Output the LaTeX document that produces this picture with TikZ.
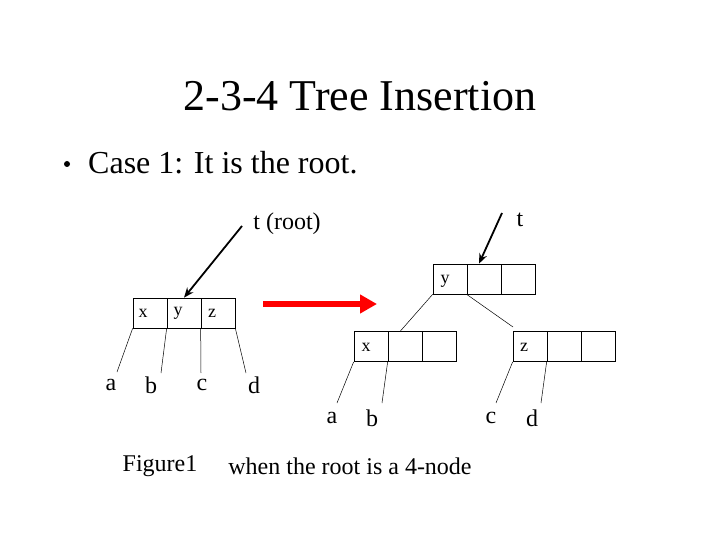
\documentclass[tikz,border=0pt]{standalone}
\usepackage{fontspec}
\setmainfont{Liberation Serif}
\usetikzlibrary{arrows.meta}
\begin{document}
\begin{tikzpicture}[x=1pt,y=-1pt,
  cell/.style={draw,line width=0.7pt,minimum width=34pt,minimum height=30pt,inner sep=0pt},
  keylab/.style={inner sep=0pt,font=\fontsize{18}{20}\selectfont},
  leaflab/.style={inner sep=0pt,font=\fontsize{24}{26}\selectfont},
  midtext/.style={inner sep=0pt,font=\fontsize{24}{26}\selectfont},
  edge/.style={line width=0.5pt},
  pointer/.style={line width=1.8pt,-{Stealth[length=10pt,width=8pt]}}]
\useasboundingbox (0,0) rectangle (720,540);
\fill[white] (0,0) rectangle (720,540);
% title
\node[inner sep=0pt,font=\fontsize{44}{48}\selectfont] (title) at (360,96) {2-3-4 Tree Insertion};
\node[circle,fill=black,inner sep=0pt,minimum size=6pt] (bul) at (67,164) {};
\node[inner sep=0pt,anchor=west,font=\fontsize{32}{36}\selectfont] (bullet) at (88,163) {Case 1: It is the root.};
% left tree
\node[cell] (L1) at (150,313) {};
\node[cell] (L2) at (184,313) {};
\node[cell] (L3) at (218,313) {};
\node[keylab] (lx) at (143,313) {x};
\node[keylab] (ly) at (178,313) {y};
\node[keylab] (lz) at (212,313) {z};
\node[leaflab] (la) at (111,385) {a};
\node[leaflab] (lb) at (151,385) {b};
\node[leaflab] (lc) at (202,385) {c};
\node[leaflab] (ld) at (254,385) {d};
\coordinate (lae) at (117,372);
\coordinate (lbe) at (161,373);
\coordinate (lce) at (201,373);
\coordinate (lde) at (246,373);
\draw[edge] (L1.south west) -- (lae);
\draw[edge] (L2.south west) -- (lbe);
\draw[edge] (L3.south west) -- (lce);
\draw[edge] (L3.south east) -- (lde);
\node[midtext] (troot) at (287,224) {t (root)};
\coordinate (trs) at (242,226);
\draw[pointer] (trs) -- (L2.north);
% red arrow
\coordinate (rs) at (263,304);
\coordinate (re) at (377,304);
\draw[red,line width=6pt,-{Triangle[length=17pt,width=18pt]}] (rs) -- (re);
% right tree
\node[cell] (T1) at (450,279) {};
\node[cell] (T2) at (484,279) {};
\node[cell] (T3) at (518,279) {};
\node[keylab] (ty) at (445,281) {y};
\node[cell] (A1) at (371,346.5) {};
\node[cell] (A2) at (405,346.5) {};
\node[cell] (A3) at (439,346.5) {};
\node[keylab] (ax) at (366,347) {x};
\node[cell] (B1) at (530,346.5) {};
\node[cell] (B2) at (564,346.5) {};
\node[cell] (B3) at (598,346.5) {};
\node[keylab] (bz) at (524,347) {z};
\coordinate (acon) at (400,331.5);
\coordinate (bcon) at (513,327);
\draw[edge] (T1.south west) -- (acon);
\draw[edge] (T2.south west) -- (bcon);
\node[leaflab] (ra) at (332,418) {a};
\node[leaflab] (rb) at (372,418) {b};
\node[leaflab] (rc) at (491,418) {c};
\node[leaflab] (rd) at (532,418) {d};
\coordinate (rae) at (337,403);
\coordinate (rbe) at (382,403);
\coordinate (rce) at (496,403);
\coordinate (rde) at (541,403);
\draw[edge] (A1.south west) -- (rae);
\draw[edge] (A2.south west) -- (rbe);
\draw[edge] (B1.south west) -- (rce);
\draw[edge] (B2.south west) -- (rde);
\node[midtext] (tt) at (520,220) {t};
\coordinate (tts) at (502,213);
\draw[pointer] (tts) -- (T2.north -| 479,0);
% captions
\node[midtext] (fig) at (160,466) {Figure1};
\node[midtext] (when) at (350,466) {when the root is a 4-node};
\end{tikzpicture}
\end{document}
